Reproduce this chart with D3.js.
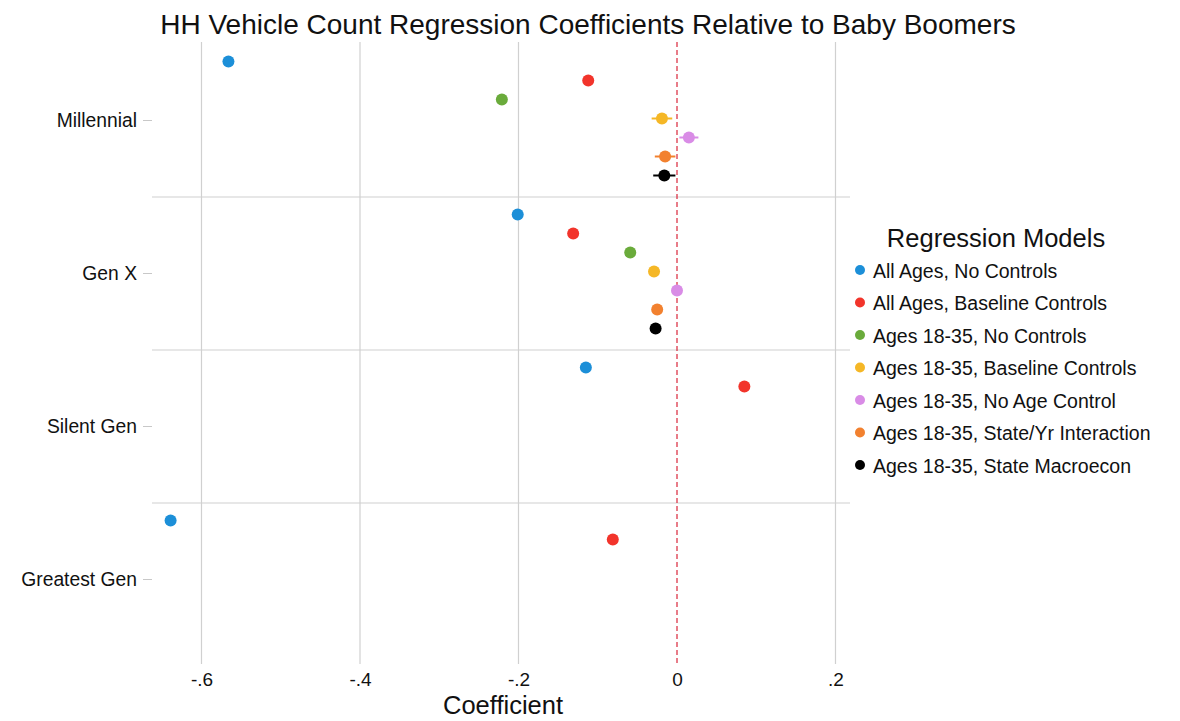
<!DOCTYPE html>
<html>
<head>
<meta charset="utf-8">
<script src="https://cdn.jsdelivr.net/npm/d3@7"></script>
<style>
  body { margin: 0; background: #fff; }
  text { font-family: "Liberation Sans", Arial, Helvetica, sans-serif; }
</style>
</head>
<body>
<svg width="1180" height="721"></svg>
<script>
const generations = ['Millennial', 'Gen X', 'Silent Gen', 'Greatest Gen'];
const models = [
  'All Ages, No Controls',
  'All Ages, Baseline Controls',
  'Ages 18-35, No Controls',
  'Ages 18-35, Baseline Controls',
  'Ages 18-35, No Age Control',
  'Ages 18-35, State/Yr Interaction',
  'Ages 18-35, State Macroecon'
];
const colors = ['#1c8fd8', '#f2342b', '#6aab3b', '#f5b726', '#d98ce6', '#f2812f', '#000000'];

// coefficients per model, in generation order (null = not estimated)
const allNoCtrl     = [-0.566, -0.201, -0.115, -0.639];
const allBaseline   = [-0.112, -0.131,  0.085, -0.081];
const youngNoCtrl   = [-0.221, -0.059, null, null];
const youngBaseline = [-0.019, -0.029, null, null];
const youngNoAge    = [ 0.015,  0.000, null, null];
const youngStateYr  = [-0.015, -0.025, null, null];
const youngMacro    = [-0.016, -0.027, null, null];
// half-width of the confidence intervals
const ciAllNoCtrl     = [0.004, 0.003, 0.004, 0.005];
const ciAllBaseline   = [0.004, 0.003, 0.004, 0.005];
const ciYoungNoCtrl   = [0.005, 0.004, null, null];
const ciYoungBaseline = [0.013, 0.005, null, null];
const ciYoungNoAge    = [0.012, 0.005, null, null];
const ciYoungStateYr  = [0.013, 0.005, null, null];
const ciYoungMacro    = [0.014, 0.005, null, null];

const xTicks = [-0.6, -0.4, -0.2, 0, 0.2];

const coefs = [allNoCtrl, allBaseline, youngNoCtrl, youngBaseline, youngNoAge, youngStateYr, youngMacro];
const cis = [ciAllNoCtrl, ciAllBaseline, ciYoungNoCtrl, ciYoungBaseline, ciYoungNoAge, ciYoungStateYr, ciYoungMacro];

const svg = d3.select('svg');

const plotLeft = 152, plotRight = 850, plotTop = 44, plotBottom = 656;

const xScale = d3.scaleLinear().domain([0, 0.2]).range([677, 835.5]);
const yScale = d3.scaleBand().domain(generations).range([plotTop, plotBottom]);
const slot = d3.scalePoint().domain(models).range([-59, 55]);

const points = [];
models.forEach((m, i) => {
  generations.forEach((g, j) => {
    if (coefs[i][j] !== null) {
      points.push({ model: m, gen: g, value: coefs[i][j], ci: cis[i][j], color: colors[i] });
    }
  });
});

const yPos = d => yScale(d.gen) + yScale.bandwidth() / 2 + slot(d.model);

// vertical grid
svg.append('g').selectAll('line')
  .data(xTicks.filter(t => t !== 0))
  .enter().append('line')
  .attr('x1', d => xScale(d)).attr('x2', d => xScale(d))
  .attr('y1', plotTop - 2).attr('y2', plotBottom + 8)
  .attr('stroke', '#d0d0d0').attr('stroke-width', 1.2);

// separators between generations
svg.append('g').selectAll('line')
  .data(generations.slice(1))
  .enter().append('line')
  .attr('x1', plotLeft).attr('x2', plotRight)
  .attr('y1', d => yScale(d)).attr('y2', d => yScale(d))
  .attr('stroke', '#cfcfcf').attr('stroke-width', 1.2);

// zero reference
svg.append('line')
  .attr('x1', xScale(0)).attr('x2', xScale(0))
  .attr('y1', plotTop - 2).attr('y2', plotBottom + 8)
  .attr('stroke', '#d9263a').attr('stroke-width', 1.2)
  .attr('stroke-dasharray', '5,3');

// y axis
const yAxis = d3.axisLeft(yScale).tickSize(9).tickPadding(6);
const yG = svg.append('g').attr('transform', `translate(${plotLeft},0)`).call(yAxis);
yG.select('.domain').remove();
yG.selectAll('line').attr('stroke', '#c8c8c8');
yG.selectAll('text').attr('font-size', 19.3).attr('fill', '#111')
  .attr('font-family', '"Liberation Sans", Arial, sans-serif');

// x axis
const xAxis = d3.axisBottom(xScale).tickValues(xTicks).tickSize(0).tickPadding(9)
  .tickFormat(d => d === 0 ? '0' : d3.format('.1f')(d).replace('0.', '.').replace('\u2212', '-'));
const xG = svg.append('g').attr('transform', `translate(0,${plotBottom + 8})`).call(xAxis);
xG.select('.domain').remove();
xG.selectAll('text').attr('font-size', 19).attr('fill', '#111')
  .attr('font-family', '"Liberation Sans", Arial, sans-serif');

svg.append('text')
  .attr('x', 503).attr('y', 714)
  .attr('text-anchor', 'middle').attr('font-size', 25.5).attr('fill', '#111')
  .text('Coefficient');

// error bars
svg.append('g').selectAll('line')
  .data(points)
  .enter().append('line')
  .attr('x1', d => xScale(d.value - d.ci)).attr('x2', d => xScale(d.value + d.ci))
  .attr('y1', yPos).attr('y2', yPos)
  .attr('stroke', d => d.color).attr('stroke-width', 2);

// dots
svg.append('g').selectAll('circle')
  .data(points)
  .enter().append('circle')
  .attr('cx', d => xScale(d.value))
  .attr('cy', yPos)
  .attr('r', 6)
  .attr('fill', d => d.color);

// title
svg.append('text')
  .attr('x', 588).attr('y', 34)
  .attr('text-anchor', 'middle').attr('font-size', 28).attr('fill', '#111')
  .text('HH Vehicle Count Regression Coefficients Relative to Baby Boomers');

// legend
const legend = svg.append('g');
legend.append('text')
  .attr('x', 996).attr('y', 247)
  .attr('text-anchor', 'middle').attr('font-size', 25.5).attr('fill', '#111')
  .text('Regression Models');
const legendY = d3.scalePoint().domain(models).range([271, 466]);
const item = legend.selectAll('g.item').data(models).enter().append('g')
  .attr('transform', d => `translate(860,${legendY(d)})`);
item.append('circle').attr('r', 5).attr('cx', 0).attr('cy', -1)
  .attr('fill', (d, i) => colors[i]);
item.append('text').attr('x', 13).attr('y', 6.5)
  .attr('font-size', 19.5).attr('fill', '#111')
  .text(d => d);
</script>
</body>
</html>
